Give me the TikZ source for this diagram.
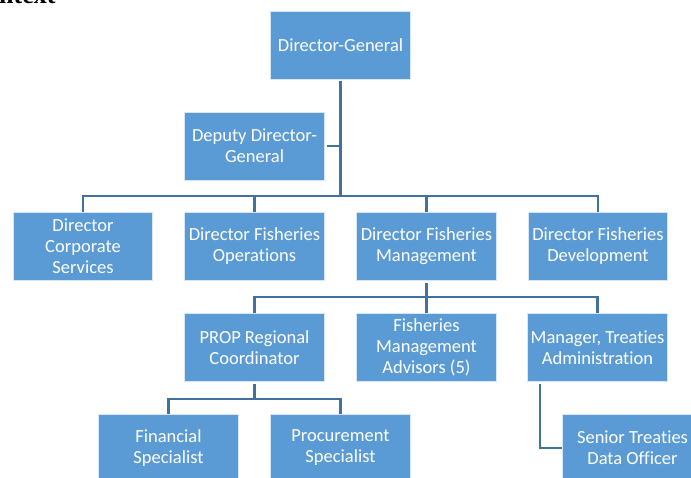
\documentclass[tikz,border=0pt]{standalone}
\usepackage{fontspec}
\setmainfont{Carlito}[Ligatures=NoCommon]
\newfontfamily\headfont{Liberation Serif}
\definecolor{boxblue}{HTML}{5B9BD5}
\definecolor{linkblue}{HTML}{41719C}
\begin{document}
\begin{tikzpicture}[x=1pt,y=-1pt,
  orgbox/.style={rectangle, fill=boxblue, draw=white!75!boxblue, line width=0.8pt,
    text=white, minimum width=139.5pt, minimum height=68pt, inner sep=1pt,
    align=center, font=\fontsize{18.5}{21}\selectfont},
  conn/.style={draw=linkblue, line width=2.2pt, line join=miter}]
\useasboundingbox (0,0) rectangle (691,478);
\clip (0,0) rectangle (691,478);

% section heading running off the top edge
\node[anchor=base west, inner sep=0, font=\headfont\bfseries\fontsize{26}{30}\selectfont] (head) at (-1,3.5) {ntext};

% level 1 and 2
\node[orgbox] (dg)  at (340.5,45)  {Director-General};
\node[orgbox] (ddg) at (254.5,146) {Deputy Director-\\General};

% directors
\node[orgbox] (dcs) at (83,246.5)    {Director\\Corporate\\Services};
\node[orgbox] (dfo) at (254.5,246.5) {Director Fisheries\\Operations};
\node[orgbox] (dfm) at (426.5,246.5) {Director Fisheries\\Management};
\node[orgbox] (dfd) at (598,246.5)   {Director Fisheries\\Development};

% fisheries management staff
\node[orgbox] (prop) at (254.5,347.5) {PROP Regional\\Coordinator};
\node[orgbox] (fma)  at (426.5,347.5) {Fisheries\\Management\\Advisors (5)};
\node[orgbox] (mta)  at (597.5,347.5) {Manager, Treaties\\Administration};

% project and treaty staff
\node[orgbox] (fin)  at (168.5,448) {Financial\\Specialist};
\node[orgbox] (proc) at (340.5,448) {Procurement\\Specialist};
\node[orgbox] (stdo) at (632.5,448) {Senior Treaties\\Data Officer};

% bus lines
\coordinate (bus1) at (0,196);
\coordinate (bus2) at (0,297);
\coordinate (bus3) at (0,399);

% Director-General to directors
\draw[conn] ([yshift=-2pt]dg.south) -- (dg.south |- bus1);
\draw[conn] ([xshift=2pt]ddg.east) -- (ddg.east -| dg.south);
\draw[conn] (dcs.north) -- (dcs.north |- bus1) -- (dfd.north |- bus1) -- (dfd.north);
\draw[conn] (dfo.north) -- (dfo.north |- bus1);
\draw[conn] (dfm.north) -- (dfm.north |- bus1);

% Director Fisheries Management to staff
\draw[conn] ([yshift=-2pt]dfm.south) -- (fma.north);
\draw[conn] (prop.north) -- (prop.north |- bus2) -- (mta.north |- bus2) -- (mta.north);

% PROP coordinator to specialists
\draw[conn] ([yshift=-2pt]prop.south) -- (prop.south |- bus3);
\draw[conn] (fin.north) -- (fin.north |- bus3) -- (proc.north |- bus3) -- (proc.north);

% treaties manager to data officer
\draw[conn] ([xshift=13pt,yshift=-2pt]mta.south west) |- (stdo.west);
\end{tikzpicture}
\end{document}
